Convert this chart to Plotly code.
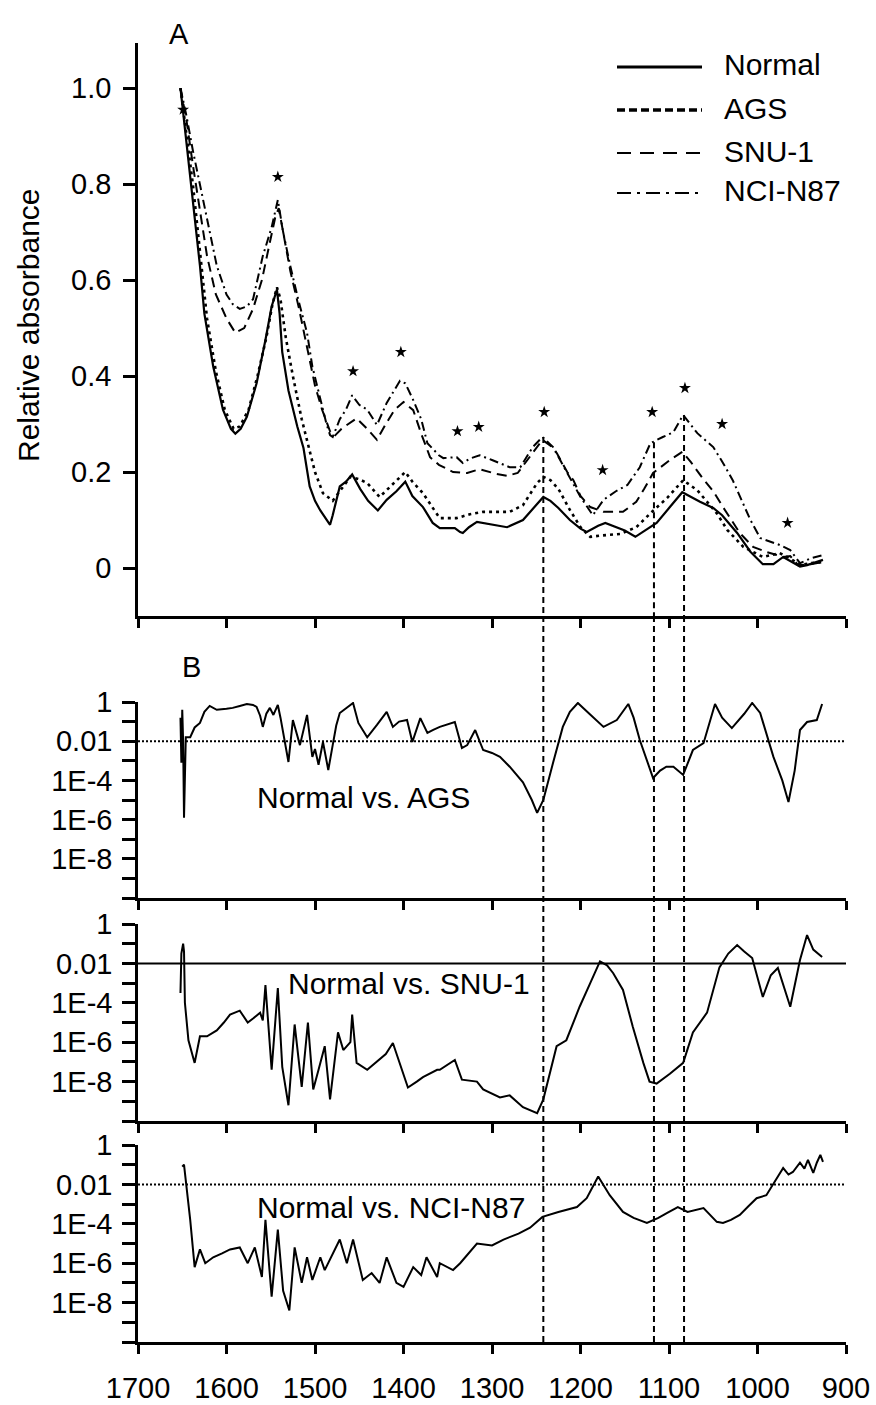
import numpy as np
import plotly.graph_objects as go

# ---------------- Panel A data (wavenumber, relative absorbance) ----------------
normal_wn = [1652, 1645, 1641, 1635, 1630, 1625, 1615, 1604, 1595, 1590, 1584, 1577, 1566, 1556, 1549, 1543,
             1540, 1537, 1530, 1520, 1513, 1506, 1500, 1494, 1487, 1483, 1480, 1472, 1465, 1458, 1449, 1440,
             1429, 1419, 1408, 1398, 1390, 1378, 1367, 1359, 1342, 1336, 1333, 1326, 1317, 1300, 1283, 1265,
             1255, 1242, 1234, 1225, 1212, 1200, 1193, 1180, 1172, 1160, 1150, 1138, 1125, 1114, 1099, 1085,
             1075, 1065, 1050, 1040, 1023, 1008, 994, 982, 971, 963, 952, 944, 935, 926]
normal_val = [1.0, 0.88, 0.81, 0.72, 0.63, 0.53, 0.42, 0.33, 0.29, 0.28, 0.29, 0.315, 0.385, 0.475, 0.545, 0.58,
              0.53, 0.45, 0.37, 0.295, 0.25, 0.17, 0.14, 0.12, 0.10, 0.09, 0.11, 0.17, 0.18, 0.195, 0.165, 0.14,
              0.12, 0.142, 0.16, 0.18, 0.15, 0.127, 0.094, 0.083, 0.083, 0.075, 0.073, 0.085, 0.096, 0.09, 0.085, 0.1,
              0.12, 0.148, 0.14, 0.125, 0.1, 0.082, 0.075, 0.088, 0.094, 0.085, 0.078, 0.065, 0.08, 0.094, 0.127, 0.158,
              0.148, 0.138, 0.125, 0.11, 0.073, 0.034, 0.008, 0.008, 0.023, 0.015, 0.003, 0.006, 0.012, 0.017]

ags_wn = [1652, 1645, 1638, 1630, 1622, 1612, 1602, 1592, 1585, 1575, 1565, 1555, 1548, 1543, 1539, 1533,
          1525, 1515, 1508, 1500, 1491, 1480, 1470, 1460, 1450, 1441, 1427, 1415, 1398, 1390, 1378, 1365,
          1359, 1340, 1325, 1310, 1280, 1265, 1249, 1242, 1234, 1225, 1212, 1200, 1189, 1175, 1155, 1137,
          1121, 1102, 1084, 1068, 1046, 1034, 1016, 994, 975, 963, 952, 940, 926]
ags_val = [1.0, 0.9, 0.8, 0.66, 0.52, 0.41, 0.33, 0.29, 0.295, 0.33, 0.4, 0.48, 0.55, 0.585, 0.56, 0.48,
           0.4, 0.31, 0.26, 0.2, 0.156, 0.14, 0.165, 0.19, 0.185, 0.177, 0.148, 0.17, 0.2, 0.18, 0.156, 0.12,
           0.104, 0.104, 0.112, 0.117, 0.117, 0.131, 0.177, 0.19, 0.183, 0.165, 0.121, 0.085, 0.065, 0.068, 0.071, 0.085,
           0.114, 0.146, 0.183, 0.162, 0.114, 0.079, 0.044, 0.023, 0.031, 0.02, 0.006, 0.01, 0.0125]

snu_wn = [1652, 1645, 1638, 1630, 1622, 1612, 1600, 1590, 1580, 1570, 1560, 1552, 1545, 1541, 1536, 1528,
          1518, 1508, 1500, 1492, 1483, 1478, 1470, 1464, 1453, 1441, 1430, 1420, 1410, 1400, 1389, 1380,
          1370, 1360, 1344, 1328, 1314, 1295, 1283, 1271, 1258, 1243, 1234, 1227, 1215, 1208, 1200, 1189,
          1174, 1152, 1137, 1128, 1118, 1099, 1085, 1075, 1062, 1050, 1039, 1020, 1005, 989, 971, 963, 954,
          940, 926]
snu_val = [1.0, 0.93, 0.84, 0.74, 0.65, 0.57, 0.52, 0.49, 0.5, 0.54, 0.6, 0.67, 0.73, 0.75, 0.7, 0.62,
           0.54, 0.45, 0.38, 0.33, 0.285, 0.275, 0.29, 0.298, 0.312, 0.29, 0.267, 0.3, 0.33, 0.346, 0.329, 0.28,
           0.231, 0.215, 0.2, 0.198, 0.206, 0.196, 0.192, 0.198, 0.23, 0.267, 0.255, 0.24, 0.2, 0.183, 0.15, 0.127,
           0.117, 0.117, 0.138, 0.165, 0.198, 0.225, 0.242, 0.22, 0.187, 0.16, 0.127, 0.073, 0.044, 0.033, 0.023, 0.025, 0.006,
           0.008, 0.0125]

nci_wn = [1652, 1645, 1638, 1630, 1622, 1611, 1600, 1593, 1585, 1577, 1570, 1559, 1549, 1542, 1536, 1528,
          1519, 1509, 1503, 1494, 1487, 1483, 1480, 1472, 1465, 1458, 1450, 1441, 1430, 1419, 1410, 1404,
          1398, 1389, 1380, 1373, 1360, 1355, 1340, 1333, 1325, 1314, 1300, 1280, 1268, 1254, 1243, 1231,
          1215, 1200, 1186, 1174, 1160, 1147, 1133, 1121, 1107, 1095, 1084, 1068, 1050, 1039, 1028, 1023,
          1008, 997, 985, 975, 963, 952, 940, 926]
nci_val = [1.0, 0.94, 0.87, 0.8, 0.73, 0.63, 0.57, 0.55, 0.54, 0.545, 0.56, 0.65, 0.71, 0.767, 0.7, 0.63,
           0.56, 0.49, 0.42, 0.35, 0.3, 0.277, 0.273, 0.31, 0.33, 0.36, 0.34, 0.33, 0.298, 0.344, 0.37, 0.39,
           0.385, 0.35, 0.31, 0.26, 0.235, 0.229, 0.231, 0.219, 0.228, 0.235, 0.225, 0.21, 0.21, 0.252, 0.273, 0.252,
           0.198, 0.148, 0.11, 0.142, 0.16, 0.173, 0.21, 0.26, 0.273, 0.283, 0.319, 0.281, 0.252, 0.219, 0.183, 0.162,
           0.1, 0.0625, 0.055, 0.048, 0.0375, 0.01, 0.02, 0.027]

star_wn = [1649, 1542, 1457, 1403, 1339, 1315, 1241, 1175, 1119, 1082, 1040, 966]
star_val = [0.955, 0.815, 0.41, 0.45, 0.285, 0.294, 0.325, 0.204, 0.325, 0.375, 0.30, 0.094]

vline_wn = [1242, 1117, 1083]
vline_top = [0.273, 0.262, 0.319]

# ---------------- Panel B data (wavenumber, log10 p-value) ----------------
ags_p_wn = [1652, 1651, 1650, 1649, 1648, 1647, 1646, 1641, 1636, 1630, 1625, 1619, 1611, 1600, 1593, 1585,
            1577, 1570, 1566, 1562, 1559, 1555, 1551, 1547, 1542, 1539, 1536, 1530, 1525, 1521, 1517, 1509,
            1503, 1500, 1496, 1491, 1485, 1480, 1476, 1472, 1465, 1457, 1451, 1441, 1430, 1419, 1412, 1405,
            1396, 1390, 1381, 1373, 1367, 1359, 1342, 1334, 1328, 1319, 1310, 1300, 1291, 1280, 1265, 1255,
            1249, 1242, 1231, 1220, 1212, 1203, 1190, 1174, 1159, 1146, 1140, 1133, 1118, 1110, 1103, 1095,
            1084, 1073, 1061, 1048, 1040, 1029, 1015, 1006, 997, 990, 982, 972, 965, 958, 952, 944, 933, 927]
ags_p_log = [-0.8, -3.1, -0.4, -2.0, -5.9, -3.0, -1.8, -1.8, -1.3, -1.07, -0.5, -0.2, -0.4, -0.35, -0.3, -0.2,
             -0.1, -0.15, -0.25, -0.7, -1.27, -0.6, -0.3, -0.66, -0.15, -0.8, -1.6, -3.06, -0.92, -1.5, -2.2, -0.66,
             -2.8, -2.4, -3.2, -2.04, -3.47, -2.2, -1.2, -0.56, -0.3, -0.05, -1.07, -1.8, -1.17, -0.5, -1.27, -1.0,
             -0.92, -2.04, -0.82, -1.58, -1.43, -1.27, -1.02, -2.35, -2.2, -1.43, -2.45, -2.6, -2.8, -3.3, -4.1, -5.0,
             -5.66, -5.0, -3.1, -1.27, -0.5, -0.05, -0.6, -1.27, -0.92, -0.1, -0.8, -1.94, -3.88, -3.5, -3.3, -3.3,
             -3.72, -2.45, -2.1, -0.1, -0.8, -1.33, -0.6, -0.05, -0.56, -1.6, -2.8, -4.0, -5.1, -3.5, -1.43, -1.02, -0.92, -0.1]

snu_p_wn = [1652, 1651, 1649, 1648, 1647, 1645, 1643, 1636, 1630, 1622, 1611, 1603, 1596, 1585, 1576, 1570,
            1562, 1559, 1556, 1549, 1542, 1537, 1530, 1523, 1515, 1508, 1502, 1496, 1489, 1483, 1474, 1468,
            1460, 1458, 1453, 1441, 1430, 1420, 1412, 1405, 1395, 1385, 1378, 1362, 1359, 1342, 1334, 1317,
            1310, 1291, 1280, 1265, 1249, 1242, 1227, 1216, 1201, 1189, 1178, 1170, 1163, 1152, 1141, 1129,
            1122, 1114, 1099, 1084, 1073, 1057, 1043, 1033, 1023, 1015, 1006, 994, 985, 977, 970, 963, 952,
            944, 937, 927]
snu_p_log = [-3.5, -1.5, -1.0, -1.4, -4.0, -5.2, -5.9, -7.05, -5.7, -5.7, -5.4, -5.0, -4.6, -4.4, -5.0, -4.8,
             -4.5, -4.9, -3.1, -7.4, -3.25, -7.25, -9.2, -5.1, -8.27, -5.0, -8.4, -7.4, -6.2, -8.9, -5.5, -6.4,
             -6.0, -4.6, -7.05, -7.4, -7.0, -6.6, -6.04, -7.0, -8.3, -8.0, -7.77, -7.4, -7.4, -6.9, -7.9, -8.0,
             -8.4, -8.8, -8.7, -9.3, -9.6, -8.9, -6.2, -5.9, -4.2, -3.0, -1.9, -2.1, -2.5, -3.35, -5.2, -7.05,
             -8.0, -8.1, -7.6, -7.05, -5.5, -4.5, -2.2, -1.5, -1.07, -1.4, -1.73, -3.7, -2.6, -2.23, -3.2, -4.2, -1.83,
             -0.56, -1.3, -1.67]

nci_p_wn = [1650, 1648, 1647, 1644, 1641, 1636, 1632, 1630, 1624, 1615, 1605, 1596, 1585, 1576, 1568, 1560,
            1556, 1549, 1542, 1536, 1529, 1523, 1515, 1509, 1503, 1494, 1489, 1480, 1472, 1464, 1457, 1446,
            1436, 1427, 1419, 1408, 1400, 1389, 1380, 1374, 1362, 1359, 1344, 1336, 1325, 1317, 1300, 1287,
            1270, 1257, 1243, 1225, 1204, 1193, 1180, 1167, 1152, 1140, 1125, 1112, 1102, 1090, 1079, 1070,
            1061, 1046, 1039, 1030, 1020, 1010, 1001, 990, 979, 971, 965, 960, 952, 947, 943, 937, 933, 929, 926]
nci_p_log = [-1.1, -1.0, -1.4, -2.5, -3.8, -6.2, -5.6, -5.3, -6.0, -5.7, -5.5, -5.3, -5.2, -6.0, -5.2, -6.7,
             -3.8, -7.7, -4.3, -7.4, -8.4, -5.2, -7.0, -5.7, -6.85, -5.7, -6.35, -5.5, -4.8, -6.0, -4.8, -6.85,
             -6.5, -7.0, -5.7, -7.0, -7.2, -6.2, -6.6, -5.7, -6.7, -6.0, -6.35, -6.0, -5.4, -5.0, -5.1, -4.8,
             -4.5, -4.2, -3.65, -3.4, -3.15, -2.7, -1.6, -2.55, -3.4, -3.7, -3.96, -3.7, -3.45, -3.15, -3.4, -3.3,
             -3.2, -3.9, -3.96, -3.8, -3.55, -3.1, -2.7, -2.55, -1.78, -1.17, -1.5, -1.37, -0.9, -1.2, -0.76, -1.42, -0.9, -0.5, -0.86]

threshold_p = 0.01

x_ticks = [1700, 1600, 1500, 1400, 1300, 1200, 1100, 1000, 900]
a_ticks = [0, 0.2, 0.4, 0.6, 0.8, 1.0]
a_ticktext = ["0", "0.2", "0.4", "0.6", "0.8", "1.0"]
b_ticks = [1, 1e-1, 1e-2, 1e-3, 1e-4, 1e-5, 1e-6, 1e-7, 1e-8, 1e-9, 1e-10]
b_ticktext = ["1", "", "0.01", "", "1E-4", "", "1E-6", "", "1E-8", "", ""]

series_labels = ["Normal", "AGS", "SNU-1", "NCI-N87"]
panel_labels = ["Normal vs. AGS", "Normal vs. SNU-1", "Normal vs. NCI-N87"]

# ---------------- Figure ----------------
W, H = 876, 1405
FONT = "Liberation Sans, Arial, Helvetica, sans-serif"
FS = 29

def px_x(p):
    return p / W

def px_y(p):
    return 1 - p / H

xdom = [px_x(138), px_x(846)]
domA = [px_y(616), px_y(43)]
domB1 = [px_y(898), px_y(702)]
domB2 = [px_y(1121), px_y(924)]
domB3 = [px_y(1342), px_y(1145)]

styles = {
    "Normal": dict(dash="solid", width=2.2),
    "AGS": dict(dash="3px,4px", width=2.6),
    "SNU-1": dict(dash="10px,6px", width=2.0),
    "NCI-N87": dict(dash="9px,4px,2px,4px", width=2.0),
}
legend_styles = {
    "Normal": dict(dash="solid", width=3.0),
    "AGS": dict(dash="8px,4px", width=3.4),
    "SNU-1": dict(dash="14px,9px", width=1.8),
    "NCI-N87": dict(dash="14px,6px,3px,6px", width=2.2),
}

fig = go.Figure()
for name, xs, ys in zip(series_labels, [normal_wn, ags_wn, snu_wn, nci_wn],
                        [normal_val, ags_val, snu_val, nci_val]):
    fig.add_trace(go.Scatter(x=xs, y=ys, mode="lines", name=name, showlegend=False,
                             line=dict(color="black", **styles[name]), xaxis="x", yaxis="y"))

fig.add_trace(go.Scatter(x=star_wn, y=star_val, mode="markers", showlegend=False,
                         marker=dict(symbol="star", size=9, color="black"), xaxis="x", yaxis="y"))

# vertical guide lines within panel A (data driven)
for wn, top in zip(vline_wn, vline_top):
    fig.add_trace(go.Scatter(x=[wn, wn], y=[top, -0.1], mode="lines", showlegend=False,
                             line=dict(color="black", width=2, dash="6px,4px"), xaxis="x", yaxis="y"))

# Panel B traces
b_axes = [("x2", "y2"), ("x3", "y3"), ("x4", "y4")]
b_data = [(ags_p_wn, ags_p_log), (snu_p_wn, snu_p_log), (nci_p_wn, nci_p_log)]
thr_dash = ["2px,2px", "solid", "2px,2px"]
for (xa, ya), (wns, logs), td in zip(b_axes, b_data, thr_dash):
    fig.add_trace(go.Scatter(x=[1700, 900], y=[threshold_p, threshold_p], mode="lines", showlegend=False,
                             line=dict(color="black", width=2, dash=td), xaxis=xa, yaxis=ya))
    fig.add_trace(go.Scatter(x=wns, y=10 ** np.array(logs, dtype=float), mode="lines", showlegend=False,
                             line=dict(color="black", width=2), xaxis=xa, yaxis=ya))

# vertical guide lines continuing through panel B
shapes = []
for wn in vline_wn:
    shapes.append(dict(type="line", xref="x", yref="paper", x0=wn, x1=wn, y0=domB3[0], y1=domA[0],
                       line=dict(color="black", width=2, dash="6px,4px"), layer="above"))

# custom legend (lines + text)
leg_rows = [65, 108, 151, 191]
annotations = []
for name, row in zip(series_labels, leg_rows):
    st = legend_styles[name]
    shapes.append(dict(type="line", xref="paper", yref="paper", x0=px_x(617), x1=px_x(702),
                       y0=px_y(row + 2), y1=px_y(row + 2),
                       line=dict(color="black", width=st["width"], dash=st["dash"])))
    annotations.append(dict(text=name, xref="paper", yref="paper", x=px_x(722), y=px_y(row),
                            xanchor="left", yanchor="middle", showarrow=False,
                            font=dict(family=FONT, size=FS + 1, color="black")))

for txt, (lx, ly) in zip(panel_labels, [(255, 797), (286, 983), (255, 1207)]):
    annotations.append(dict(text=txt, xref="paper", yref="paper", x=px_x(lx), y=px_y(ly),
                            xanchor="left", yanchor="middle", showarrow=False,
                            font=dict(family=FONT, size=FS + 1, color="black")))

annotations.append(dict(text="A", xref="paper", yref="paper", x=px_x(179), y=px_y(34),
                        xanchor="center", yanchor="middle", showarrow=False,
                        font=dict(family=FONT, size=FS, color="black")))
annotations.append(dict(text="B", xref="paper", yref="paper", x=px_x(191), y=px_y(667),
                        xanchor="center", yanchor="middle", showarrow=False,
                        font=dict(family=FONT, size=FS, color="black")))
annotations.append(dict(text="Relative absorbance", xref="paper", yref="paper", x=px_x(28), y=px_y(325),
                        xanchor="center", yanchor="middle", showarrow=False, textangle=-90,
                        font=dict(family=FONT, size=FS + 1, color="black")))

common_x = dict(domain=xdom, range=[1700, 900], tickvals=x_ticks, ticks="outside", ticklen=9,
                tickwidth=2.5, tickcolor="black", showline=True, linewidth=2.5, linecolor="black",
                showgrid=False, zeroline=False, mirror=False, automargin=False,
                tickfont=dict(family=FONT, size=FS, color="black"))
common_yb = dict(type="log", range=[-10, 0], tickvals=b_ticks, ticktext=b_ticktext, ticks="outside",
                 ticklen=13, tickwidth=2.5, tickcolor="black", showline=True, linewidth=2.5,
                 linecolor="black", showgrid=False, zeroline=False, ticklabelstandoff=4, automargin=False,
                 tickfont=dict(family=FONT, size=FS, color="black"))

fig.update_layout(
    width=W, height=H, margin=dict(l=0, r=0, t=0, b=0, autoexpand=False),
    paper_bgcolor="white", plot_bgcolor="white", showlegend=False,
    font=dict(family=FONT, size=FS, color="black"),
    xaxis=dict(common_x, anchor="y", showticklabels=False),
    yaxis=dict(domain=domA, range=[-0.1, 1.094], tickvals=a_ticks, ticktext=a_ticktext, ticks="outside",
               ticklen=12, tickwidth=2.5, tickcolor="black", showline=True, linewidth=2.5,
               linecolor="black", showgrid=False, zeroline=False, anchor="x", ticklabelstandoff=6,
               automargin=False, tickfont=dict(family=FONT, size=FS, color="black")),
    xaxis2=dict(common_x, anchor="y2", showticklabels=False, matches="x"),
    yaxis2=dict(common_yb, domain=domB1, anchor="x2"),
    xaxis3=dict(common_x, anchor="y3", showticklabels=False, matches="x"),
    yaxis3=dict(common_yb, domain=domB2, anchor="x3"),
    xaxis4=dict(common_x, anchor="y4", showticklabels=True, matches="x", ticklabelstandoff=9),
    yaxis4=dict(common_yb, domain=domB3, anchor="x4"),
    shapes=shapes, annotations=annotations,
)

fig.write_html("out.html", config={"displayModeBar": False},
               post_script="document.body.style.margin='0';document.body.style.overflow='hidden';")
